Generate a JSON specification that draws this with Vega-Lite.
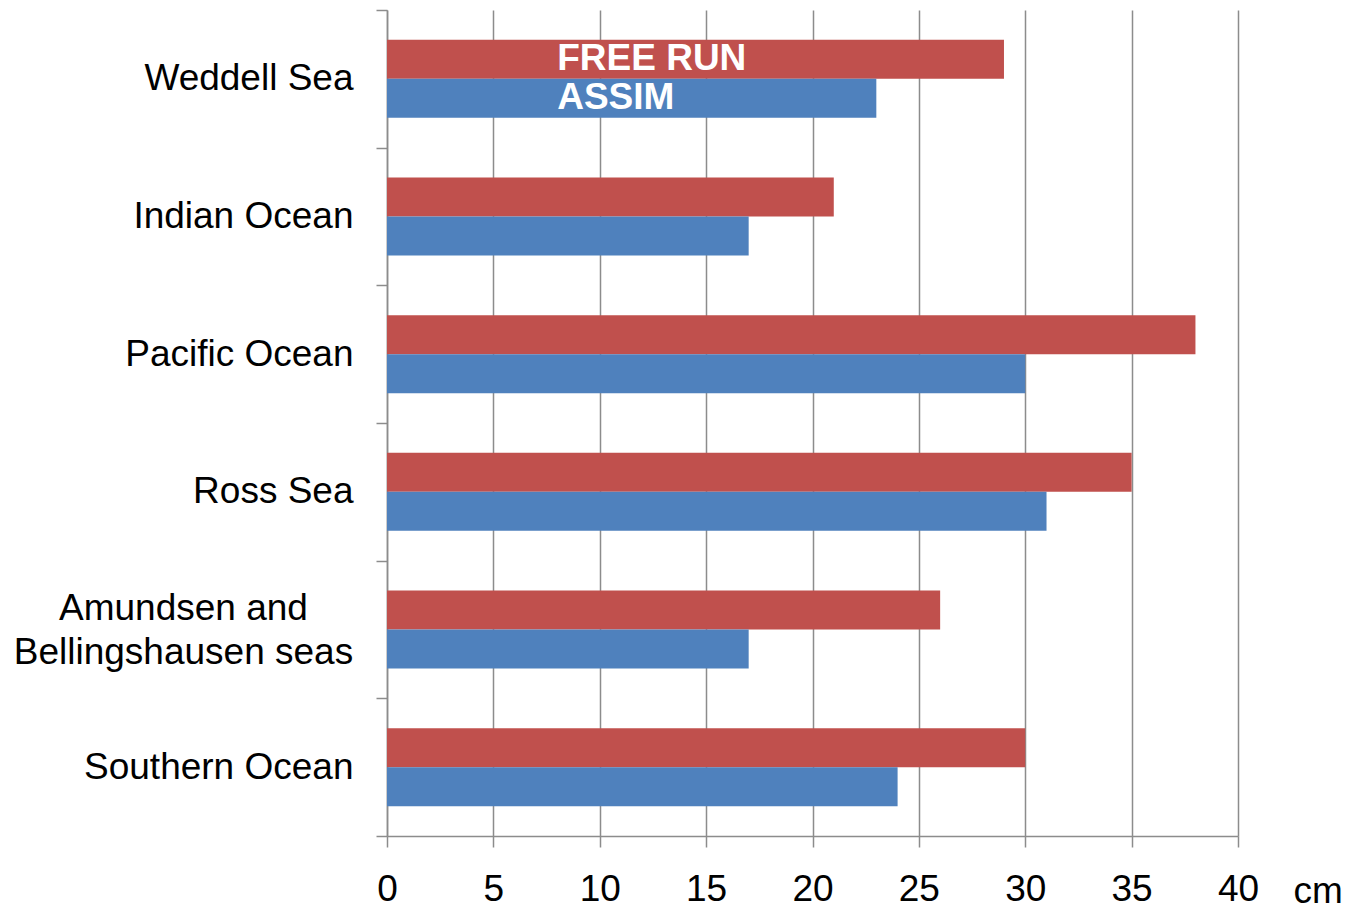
{
  "$schema": "https://vega.github.io/schema/vega-lite/v6.json",
  "autosize": {"type": "none"},
  "padding": {"left": 387, "top": 10, "right": 123, "bottom": 72},
  "width": 851,
  "height": 826,
  "background": "white",
  "config": {
    "view": {"stroke": null},
    "font": "Liberation Sans",
    "axis": {
      "domainColor": "#8c8c8c",
      "domainWidth": 1.5,
      "tickColor": "#8c8c8c",
      "tickWidth": 1.5,
      "gridColor": "#8c8c8c",
      "gridWidth": 1.5,
      "labelColor": "#000000",
      "labelFont": "Liberation Sans",
      "labelFontSize": 37,
      "titleFont": "Liberation Sans",
      "titleColor": "#000000"
    }
  },
  "data": {
    "values": [
      {"region": "Weddell Sea", "series": "FREE RUN", "value": 29},
      {"region": "Weddell Sea", "series": "ASSIM", "value": 23},
      {"region": "Indian Ocean", "series": "FREE RUN", "value": 21},
      {"region": "Indian Ocean", "series": "ASSIM", "value": 17},
      {"region": "Pacific Ocean", "series": "FREE RUN", "value": 38},
      {"region": "Pacific Ocean", "series": "ASSIM", "value": 30},
      {"region": "Ross Sea", "series": "FREE RUN", "value": 35},
      {"region": "Ross Sea", "series": "ASSIM", "value": 31},
      {"region": "Amundsen and Bellingshausen seas", "series": "FREE RUN", "value": 26},
      {"region": "Amundsen and Bellingshausen seas", "series": "ASSIM", "value": 17},
      {"region": "Southern Ocean", "series": "FREE RUN", "value": 30},
      {"region": "Southern Ocean", "series": "ASSIM", "value": 24}
    ]
  },
  "encoding": {
    "y": {
      "field": "region",
      "type": "nominal",
      "scale": {
        "domain": ["Weddell Sea", "Indian Ocean", "Pacific Ocean", "Ross Sea", "Amundsen and Bellingshausen seas", "Southern Ocean"],
        "paddingInner": 0,
        "paddingOuter": 0
      },
      "axis": {
        "title": null,
        "tickBand": "extent",
        "tickSize": 11,
        "grid": false,
        "labelLineHeight": 44,
        "labelLimit": 400,
        "labelExpr": "datum.value == 'Amundsen and Bellingshausen seas' ? ['Amundsen and', 'Bellingshausen seas'] : datum.value",
        "labelAlign": {"condition": {"test": "datum.value == 'Amundsen and Bellingshausen seas'", "value": "center"}, "value": "right"},
        "labelPadding": {"condition": {"test": "datum.value == 'Amundsen and Bellingshausen seas'", "value": 193}, "value": 23},
        "labelOffset": {"condition": {"test": "datum.value == 'Amundsen and Bellingshausen seas'", "value": -21}, "value": 0}
      }
    },
    "yOffset": {
      "field": "series",
      "type": "nominal",
      "scale": {"domain": ["FREE RUN", "ASSIM"], "paddingInner": 0, "paddingOuter": 0.765}
    }
  },
  "layer": [
    {
      "mark": {"type": "bar"},
      "encoding": {
        "x": {
          "field": "value",
          "type": "quantitative",
          "scale": {"domain": [0, 40], "nice": false},
          "axis": {
            "values": [0, 5, 10, 15, 20, 25, 30, 35, 40],
            "tickSize": 11,
            "grid": true,
            "labelPadding": 24,
            "labelFlush": false,
            "title": "cm",
            "titleFontSize": 37,
            "titleFontWeight": "normal",
            "titleAngle": 0,
            "titleAlign": "left",
            "titleBaseline": "alphabetic",
            "titleX": 906,
            "titleY": 66
          }
        },
        "color": {
          "field": "series",
          "type": "nominal",
          "scale": {"domain": ["FREE RUN", "ASSIM"], "range": ["#C0504D", "#4F81BD"]},
          "legend": null
        }
      }
    },
    {
      "transform": [{"filter": "datum.region == 'Weddell Sea'"}],
      "mark": {
        "type": "text",
        "align": "left",
        "baseline": "middle",
        "fontSize": 37,
        "fontWeight": "bold",
        "color": "white"
      },
      "encoding": {
        "x": {"datum": 8, "type": "quantitative"},
        "text": {"field": "series"}
      }
    }
  ]
}
